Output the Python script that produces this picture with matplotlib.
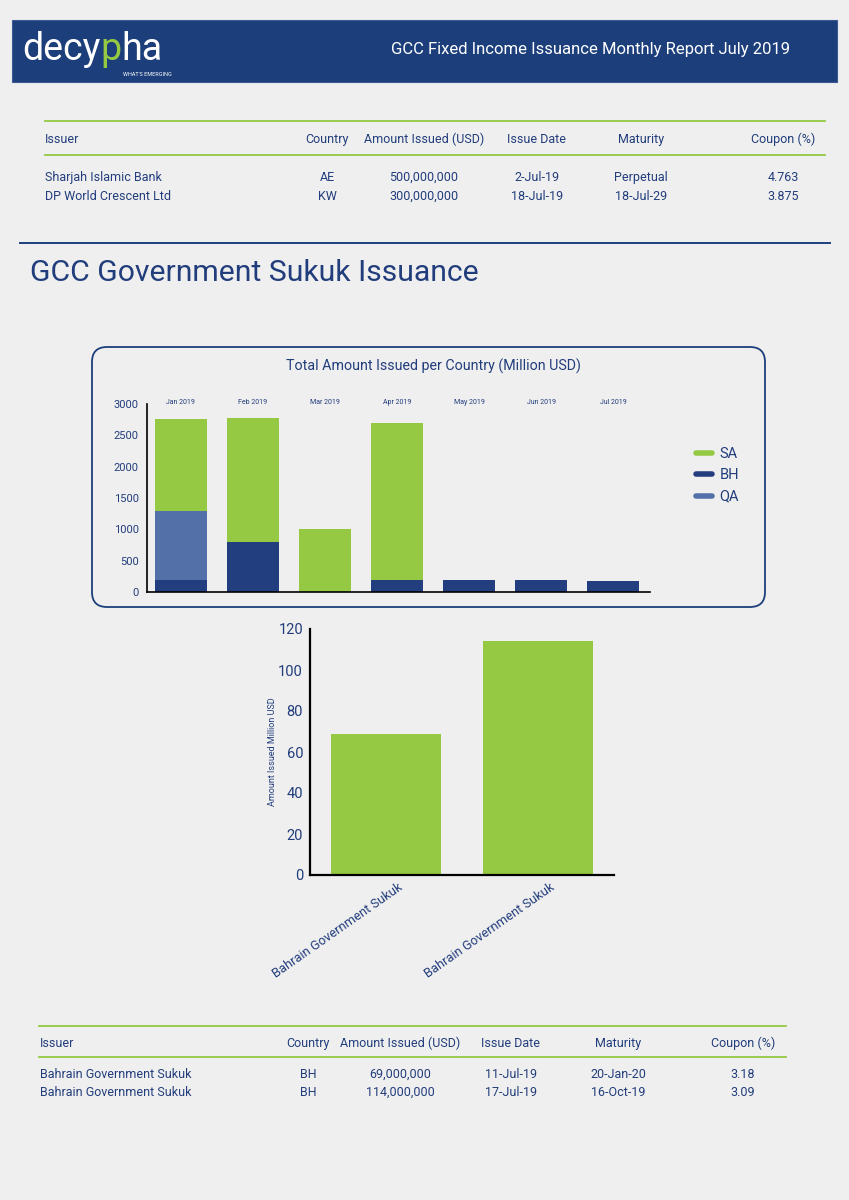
import matplotlib
matplotlib.use("Agg")
import matplotlib.pyplot as plt
import matplotlib.transforms as mtransforms
from matplotlib.patches import FancyBboxPatch, Rectangle
from matplotlib.lines import Line2D

# colours
NAVY = "#1c3f7c"
TEXT = "#223d7c"
GREEN = "#95c943"
BH_C = "#233e7f"
QA_C = "#5470a9"
BG = "#efefef"

plt.rcParams["font.family"] = ["Roboto", "DejaVu Sans"]

# stacked chart data (million USD)
months = ["Jan 2019", "Feb 2019", "Mar 2019", "Apr 2019", "May 2019", "Jun 2019", "Jul 2019"]
bh = [185, 800, 0, 190, 195, 190, 183]
qa = [1115, 0, 0, 0, 0, 0, 0]
sa = [1460, 1975, 1000, 2505, 0, 0, 0]

# sukuk chart data
sukuk_names = ["Bahrain Government Sukuk", "Bahrain Government Sukuk"]
sukuk_amount = [69, 114]

# tables
columns = ["Issuer", "Country", "Amount Issued (USD)", "Issue Date", "Maturity", "Coupon (%)"]
table1_rows = [
    ["Sharjah Islamic Bank", "AE", "500,000,000", "2-Jul-19", "Perpetual", "4.763"],
    ["DP World Crescent Ltd", "KW", "300,000,000", "18-Jul-19", "18-Jul-29", "3.875"],
]
table2_rows = [
    ["Bahrain Government Sukuk", "BH", "69,000,000", "11-Jul-19", "20-Jan-20", "3.18"],
    ["Bahrain Government Sukuk", "BH", "114,000,000", "17-Jul-19", "16-Oct-19", "3.09"],
]

W, H = 849, 1200
fig = plt.figure(figsize=(W / 100, H / 100), dpi=100, facecolor=BG)

# page layer in pixel coordinates
page = fig.add_axes([0, 0, 1, 1], zorder=0)
page.set_xlim(0, W)
page.set_ylim(H, 0)
page.axis("off")

# header band
page.add_patch(Rectangle((12, 20), 825, 62, facecolor=NAVY, edgecolor="#3a5a95", lw=0.8))
page.text(591, 48, "GCC Fixed Income Issuance Monthly Report July 2019", color="white",
          fontsize=12, ha="center", va="center_baseline")

# logo
fig.canvas.draw()
r = fig.canvas.get_renderer()
x0 = 22
for part, col in [("decy", "white"), ("p", GREEN), ("ha", "white")]:
    t = page.text(x0, 60, part, color=col, fontsize=27, ha="left", va="baseline")
    x0 += t.get_window_extent(renderer=r).width
page.text(172, 74, "WHAT'S EMERGING", color="white", fontsize=4, ha="right", va="center")


def draw_table(y_line, y_head, y_line2, y_rows, x_left, x_right, xs, rows):
    page.plot([x_left, x_right], [y_line, y_line], color=GREEN, lw=1.3)
    page.plot([x_left, x_right], [y_line2, y_line2], color=GREEN, lw=1.3)
    for i, c in enumerate(columns):
        page.text(xs[i], y_head, c, color=TEXT, fontsize=9, va="center_baseline",
                  ha="left" if i == 0 else "center")
    for row, y in zip(rows, y_rows):
        for i, v in enumerate(row):
            page.text(xs[i], y, v, color=TEXT, fontsize=9, va="center_baseline",
                      ha="left" if i == 0 else "center")


draw_table(121, 138, 155, [176, 195], 45, 825, [45, 327, 424, 537, 641, 783], table1_rows)
draw_table(1026, 1042, 1057, [1073, 1091], 39, 786, [40, 308, 400, 511, 618, 743], table2_rows)

# section heading
page.plot([20, 830], [243, 243], color=NAVY, lw=1.4)
page.text(30, 270, "GCC Government Sukuk Issuance", color=TEXT, fontsize=21.7,
          ha="left", va="center_baseline")

# rounded chart box
page.add_patch(FancyBboxPatch((92, 347), 673, 260, boxstyle="round,pad=0,rounding_size=15",
                              facecolor=BG, edgecolor=NAVY, lw=1.3))
page.text(433, 365, "Total Amount Issued per Country (Million USD)", color=TEXT,
          fontsize=10.3, ha="center", va="center_baseline")

# stacked chart
ax1 = fig.add_axes([147 / W, 1 - 592 / H, (650 - 147) / W, (592 - 404) / H], zorder=2)
ax1.patch.set_alpha(0)
x = list(range(len(months)))
bottom_qa = bh
bottom_sa = [a + b for a, b in zip(bh, qa)]
ax1.bar(x, bh, width=0.72, color=BH_C, zorder=2)
ax1.bar(x, qa, width=0.72, bottom=bottom_qa, color=QA_C, zorder=2)
ax1.bar(x, sa, width=0.72, bottom=bottom_sa, color=GREEN, zorder=2)
ax1.set_xlim(-0.47, 6.51)
ax1.set_ylim(0, 3000)
ax1.set_yticks([0, 500, 1000, 1500, 2000, 2500, 3000])
ax1.set_xticks([])
ax1.tick_params(axis="y", length=0, pad=6, labelsize=8, labelcolor=TEXT)
for s in ["top", "right"]:
    ax1.spines[s].set_visible(False)
for s in ["left", "bottom"]:
    ax1.spines[s].set_color("black")
    ax1.spines[s].set_linewidth(1.2)
for xi, m in zip(x, months):
    ax1.text(xi, 3030, m, color=TEXT, fontsize=5, ha="center", va="center")

handles = [Line2D([0], [0], color=c, lw=4, solid_capstyle="round") for c in (GREEN, BH_C, QA_C)]
fig.legend(handles, ["SA", "BH", "QA"], loc="upper left", bbox_to_anchor=(683 / W, 1 - 434 / H),
           frameon=False, handlelength=1.1, handletextpad=0.5, labelspacing=0.5,
           fontsize=10.5, labelcolor=TEXT)

# sukuk bar chart
ax2 = fig.add_axes([310 / W, 1 - 875 / H, (614 - 310) / W, (875 - 629) / H], zorder=2)
ax2.patch.set_alpha(0)
ax2.bar(range(len(sukuk_amount)), sukuk_amount, width=0.72, color=GREEN)
ax2.set_xlim(-0.5, 1.5)
ax2.set_ylim(0, 120)
ax2.set_yticks([0, 20, 40, 60, 80, 100, 120])
ax2.set_xticks(range(len(sukuk_names)))
ax2.set_xticklabels(sukuk_names, rotation=35, ha="right", rotation_mode="anchor")
ax2.tick_params(axis="y", length=0, pad=5, labelsize=10.5, labelcolor=TEXT)
ax2.tick_params(axis="x", length=0, pad=4, labelsize=9.3, labelcolor=TEXT)
shift = mtransforms.ScaledTranslation(12 / 100, 0, fig.dpi_scale_trans)
for lab in ax2.get_xticklabels():
    lab.set_transform(lab.get_transform() + shift)
ax2.set_ylabel("Amount Issued Million USD", color=TEXT, fontsize=6.5, labelpad=1)
for s in ["top", "right"]:
    ax2.spines[s].set_visible(False)
for s in ["left", "bottom"]:
    ax2.spines[s].set_color("black")
    ax2.spines[s].set_linewidth(1.6)

fig.savefig("out.png", dpi=100, facecolor=BG)
